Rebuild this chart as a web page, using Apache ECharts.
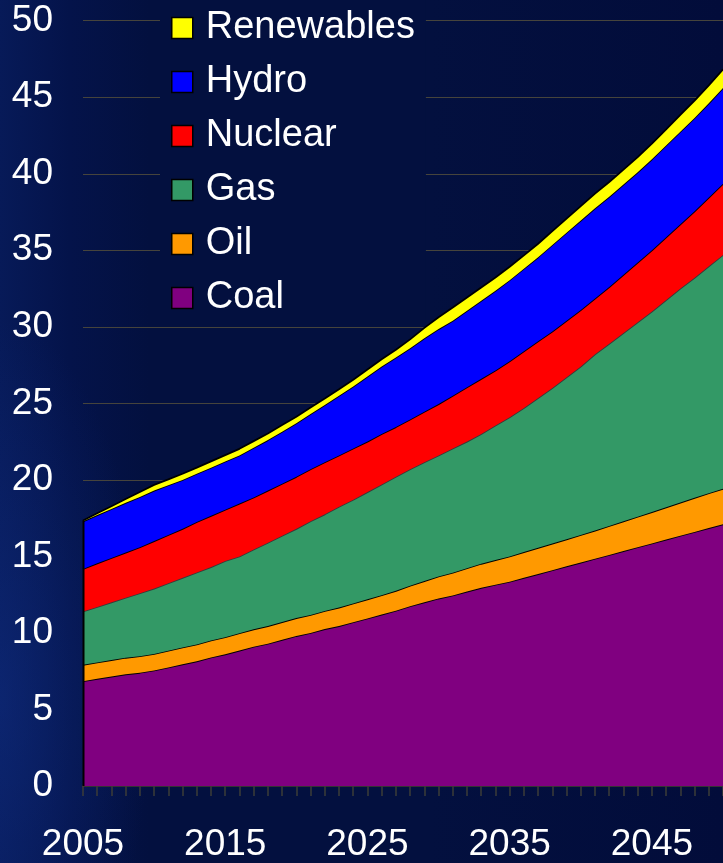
<!DOCTYPE html>
<html>
<head>
<meta charset="utf-8">
<script src="https://cdn.jsdelivr.net/npm/echarts@6/dist/echarts.min.js"></script>
<style>
  html, body { margin: 0; padding: 0; width: 723px; height: 863px; overflow: hidden; }
  body {
    background:
      radial-gradient(ellipse 150px 380px at 0px 700px, rgba(18,50,140,0.45), rgba(18,50,140,0) 100%),
      linear-gradient(to right, #071a58 0px, #04134a 70px, #03103f 150px, #03103f 430px, #020c3a 100%);
  }
  #chart { width: 723px; height: 863px; }
</style>
</head>
<body>
<div id="chart"></div>
<script>
const years = [2005,2006,2007,2008,2009,2010,2011,2012,2013,2014,2015,2016,2017,2018,2019,2020,2021,2022,2023,2024,2025,2026,2027,2028,2029,2030,2031,2032,2033,2034,2035,2036,2037,2038,2039,2040,2041,2042,2043,2044,2045,2046,2047,2048,2049,2050].map(String);

const coal = [6.85,7.00,7.15,7.30,7.40,7.55,7.75,7.95,8.15,8.40,8.60,8.85,9.10,9.30,9.55,9.80,10.00,10.25,10.45,10.70,10.95,11.20,11.45,11.75,12.00,12.25,12.45,12.70,12.95,13.15,13.35,13.60,13.85,14.10,14.35,14.60,14.85,15.10,15.35,15.60,15.85,16.10,16.35,16.60,16.85,17.10];
const oil = [1.07,1.07,1.08,1.08,1.08,1.08,1.09,1.10,1.10,1.11,1.12,1.13,1.14,1.15,1.16,1.17,1.18,1.19,1.21,1.23,1.25,1.27,1.30,1.34,1.39,1.44,1.49,1.53,1.57,1.61,1.65,1.68,1.71,1.74,1.77,1.80,1.84,1.89,1.94,1.99,2.05,2.11,2.17,2.23,2.28,2.32];
const gas = [3.48,3.63,3.77,3.92,4.12,4.27,4.41,4.55,4.70,4.79,4.98,5.02,5.21,5.45,5.64,5.83,6.12,6.31,6.59,6.77,7.00,7.23,7.45,7.61,7.76,7.91,8.11,8.27,8.48,8.79,9.10,9.42,9.79,10.16,10.58,11.00,11.51,11.91,12.31,12.71,13.10,13.54,13.98,14.37,14.82,15.28];
const nuclear = [2.78,2.85,2.90,2.95,3.00,3.10,3.15,3.20,3.30,3.35,3.35,3.45,3.40,3.40,3.40,3.40,3.40,3.40,3.35,3.35,3.30,3.30,3.25,3.25,3.30,3.35,3.45,3.55,3.60,3.60,3.65,3.70,3.70,3.70,3.70,3.70,3.65,3.70,3.80,3.90,4.00,4.10,4.20,4.35,4.50,4.65];
const hydro = [3.11,3.15,3.20,3.25,3.28,3.30,3.25,3.20,3.15,3.15,3.15,3.15,3.25,3.30,3.40,3.50,3.60,3.75,3.90,4.05,4.25,4.40,4.55,4.65,4.80,4.90,4.90,5.00,5.10,5.20,5.30,5.40,5.50,5.65,5.75,5.85,5.90,5.90,5.90,5.90,5.95,6.00,6.05,6.10,6.15,6.25];
const renewables = [0.06,0.12,0.18,0.25,0.33,0.37,0.38,0.40,0.40,0.41,0.42,0.43,0.43,0.43,0.43,0.43,0.43,0.42,0.42,0.44,0.46,0.48,0.50,0.58,0.68,0.78,0.86,0.87,0.87,0.87,0.87,0.87,0.88,0.90,0.92,0.94,0.95,0.96,0.97,0.99,1.02,1.05,1.09,1.13,1.18,1.22];

const seriesNames = ['Coal','Oil','Gas','Nuclear','Hydro','Renewables'];
const seriesData = [coal, oil, gas, nuclear, hydro, renewables];
const seriesColors = ['#800080','#FF9900','#339966','#FF0000','#0000FF','#FFFF00'];
const lineColors = ['#000000','#000000','#3a3a3a','#000000','#000000','#000000'];
const legendOrder = ['Renewables','Hydro','Nuclear','Gas','Oil','Coal'];
const yTicks = [0,5,10,15,20,25,30,35,40,45,50];

// total of the first year, used for the left edge outline of the stack
const firstTotal = seriesData.reduce((s, arr) => s + arr[0], 0);

const FONT = "'Liberation Sans', Arial, sans-serif";
const chart = echarts.init(document.getElementById('chart'), null, {renderer: 'canvas'});

const areaSeries = seriesNames.map((name, i) => ({
  name: name,
  type: 'line',
  stack: 'total',
  data: seriesData[i],
  symbol: 'none',
  smooth: false,
  color: seriesColors[i],
  itemStyle: { color: seriesColors[i] },
  lineStyle: { color: lineColors[i], width: 1.8 },
  areaStyle: { color: seriesColors[i], opacity: 1 },
  z: 2 + i
}));

areaSeries.push({
  name: 'edge',
  type: 'custom',
  data: [[0, firstTotal]],
  z: 20,
  silent: true,
  renderItem: function (params, api) {
    const p0 = api.coord([api.value(0), 0]);
    const p1 = api.coord([api.value(0), api.value(1)]);
    return {
      type: 'line',
      shape: { x1: p0[0] + 0.5, y1: p0[1], x2: p1[0] + 0.5, y2: p1[1] },
      style: { stroke: '#000', lineWidth: 2 }
    };
  }
});

chart.setOption({
  backgroundColor: 'transparent',
  animation: false,
  grid: { left: 83, right: -6, top: 20.7, bottom: 75.6, containLabel: false },
  legend: {
    orient: 'vertical',
    left: 160,
    top: 0,
    padding: [9, 11, 6, 11],
    backgroundColor: '#03103f',
    icon: 'rect',
    itemWidth: 21,
    itemHeight: 21,
    itemGap: 16,
    data: legendOrder,
    itemStyle: { borderColor: '#000', borderWidth: 1.5 },
    textStyle: { color: '#ffffff', fontSize: 38, fontFamily: FONT, lineHeight: 38, padding: [0,0,0,8] }
  },
  xAxis: {
    type: 'category',
    boundaryGap: false,
    data: years,
    axisLine: { show: true, lineStyle: { color: '#333333', width: 2 } },
    axisTick: { show: true, interval: 0, length: 10, lineStyle: { color: '#3d3d38', width: 1.5 } },
    axisLabel: { interval: 9, color: '#ffffff', fontSize: 37, fontFamily: FONT, margin: 40 },
    splitLine: { show: false }
  },
  yAxis: {
    type: 'value',
    min: yTicks[0],
    max: yTicks[yTicks.length - 1],
    interval: 5,
    axisLine: { show: false },
    axisTick: { show: false },
    axisLabel: { color: '#ffffff', fontSize: 37, fontFamily: FONT, margin: 30 },
    splitLine: { show: true, lineStyle: { color: '#46443c', width: 1.2 } }
  },
  series: areaSeries
});
</script>
</body>
</html>
